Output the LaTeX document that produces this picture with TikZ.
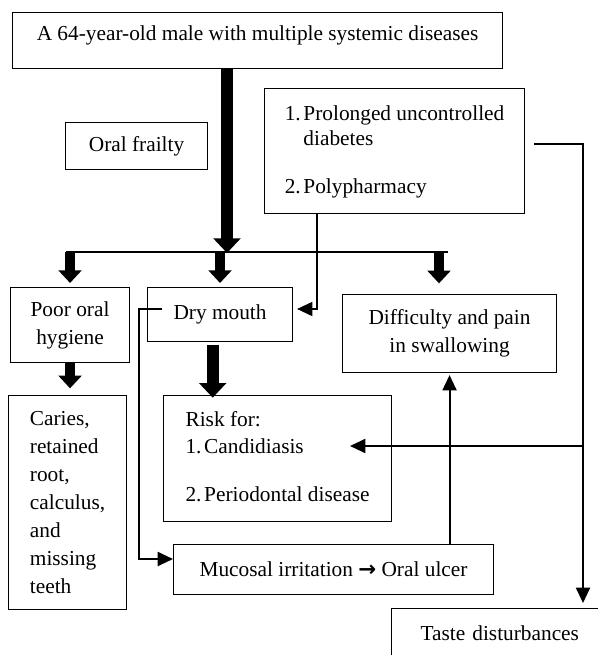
\documentclass[tikz,border=0pt]{standalone}
\usepackage{fontspec}
\setmainfont{Liberation Serif}
\newfontfamily\arrowfont{DejaVu Sans}
\usetikzlibrary{arrows.meta}
\tikzset{flow/box/.style={draw, line width=0.8pt, inner sep=0pt, anchor=north west, align=center, font=\fontsize{16}{21}\selectfont}}
\tikzset{flow/bar/.style={line width=1.5pt}}
\tikzset{flow/link/.style={line width=1.5pt, -{Triangle[width=10.5pt,length=11.5pt]}}}
\tikzset{flow/fat/.style={line width=7.5pt, -{Triangle[width=17pt,length=9.5pt]}}}
\tikzset{flow/fatter/.style={line width=9pt, -{Triangle[width=20pt,length=11pt]}}}

\begin{document}
\begin{tikzpicture}[x=0.75pt, y=-0.75pt]
  \useasboundingbox (0,0) rectangle (598,655);
\clip (0,0) rectangle (598,655);
\node[flow/box, minimum width=367.5pt, text height=21pt, text depth=21pt] (top) at (12,12) {A 64-year-old male with multiple systemic diseases};
\node[flow/box, minimum width=106.5pt, minimum height=35.25pt] (frail) at (65,122) {Oral frailty};
\node[flow/box, minimum width=195pt, minimum height=93.75pt] (diab) at (264,88) {\begin{tabular}{@{}l@{\hspace{2pt}}l@{}}1.&Prolonged uncontrolled\\[-2.25pt]&diabetes\\[15pt]2.&Polypharmacy\end{tabular}};
\node[flow/box, minimum width=89.25pt, minimum height=56.25pt] (poor) at (10,287) {Poor oral\\hygiene};
\node[flow/box, minimum width=108.75pt, minimum height=40.5pt] (dry) at (147,287) {Dry mouth};
\node[flow/box, minimum width=160.5pt, minimum height=58.5pt] (diff) at (342,294) {Difficulty and pain\\in swallowing};
\node[flow/box, align=left, minimum width=88.5pt, minimum height=160.5pt] (caries) at (8,395) {Caries,\\retained\\root,\\calculus,\\and\\missing\\teeth};
\node[flow/box, minimum width=171pt, minimum height=94.5pt] (risk) at (163,395) {\begin{tabular}{@{}l@{\hspace{2pt}}l@{}}\multicolumn{2}{@{}l@{}}{Risk for:}\\[-0.75pt]1.&Candidiasis\\[15pt]2.&Periodontal disease\end{tabular}};
\node[flow/box, minimum width=240pt, minimum height=37.5pt] (muc) at (173,544) {Mucosal irritation {\arrowfont\bfseries →} Oral ulcer};
\node[flow/box, align=left, text width=136.5pt, inner xsep=21.75pt, minimum height=36.75pt] (taste) at (391,608) {Taste disturbances};
\coordinate (split) at (227,253);
\coordinate (barL) at (66,252);
\coordinate (barR) at (448,252);
\coordinate (dropR) at (439,252);
\coordinate (kinkA) at (317,309);
\coordinate (kinkB) at (139,309);
\coordinate (kinkC) at (139,559);
\coordinate (kinkD) at (583,144);
\coordinate (kinkE) at (583,446);
\coordinate (candR) at (350,446);
\draw[flow/bar] (barL) -- (barR);
\draw[flow/fatter] (top.south -| split) -- (split);
\draw[flow/fat] (poor.north |- barL) -- ([yshift=3pt]poor.north);
\draw[flow/fat] (dry.north |- barL) -- ([yshift=3pt]dry.north);
\draw[flow/fat] (dropR) -- ([yshift=8pt]dropR |- diff.north);
\draw[flow/fat] (poor.south) -- ([yshift=5pt]poor.south |- caries.north);
\draw[flow/fatter] ([xshift=-5.5pt,yshift=-2pt]dry.south) -- ([xshift=-5.5pt,yshift=-2pt]dry.south |- risk.north);
\draw[flow/link] (diab.south -| kinkA) -- (kinkA) -- ([xshift=3pt]dry.east |- kinkA);
\draw[flow/link] ([xshift=11.25pt]dry.west |- kinkB) -- (kinkB) -- (kinkC) -- (muc.west |- kinkC);
\draw[flow/link] (muc.north -| diff.south) -- ([yshift=-1.5pt]diff.south);
\draw[flow/link] ([xshift=6.75pt]diab.east |- kinkD) -- (kinkD) -- ([yshift=3.75pt]taste.north -| kinkD);
\draw[flow/link] (kinkE) -- (candR);

\end{tikzpicture}
\end{document}
